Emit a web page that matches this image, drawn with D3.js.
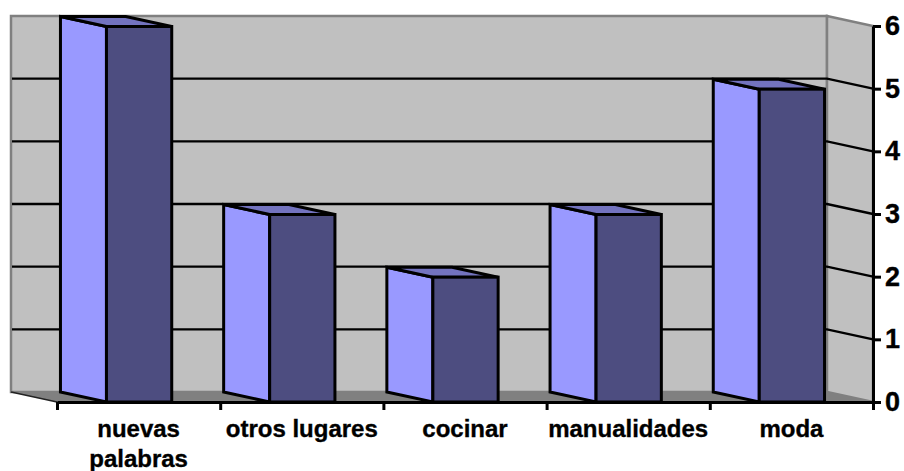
<!DOCTYPE html>
<html><head><meta charset="utf-8">
<script src="https://cdn.jsdelivr.net/npm/d3@7/dist/d3.min.js"></script>
<style>html,body{margin:0;padding:0;background:#fff}svg{display:block}text{font-family:"Liberation Sans",Arial,sans-serif;font-weight:bold;fill:#000;stroke:#000;stroke-width:0.35px}</style>
</head><body><svg id="c" width="904" height="471"></svg>
<script>
const categories = ["nuevas palabras","otros lugares","cocinar","manualidades","moda"];
const values = [6,3,2,3,5];
const yTicks = [0,1,2,3,4,5,6];

const dx = 46, dy = 10;
const plotL = 57, plotR = 873, plotB = 402, plotT = 26;
const svg = d3.select("#c");
const x = d3.scaleBand().domain(categories).range([plotL,plotR]).paddingInner(0.6).paddingOuter(0.3);
const edge = d3.scaleLinear().domain([0,categories.length]).range([plotL,plotR]);
const y = d3.scaleLinear().domain([0,6]).range([plotB,plotT]);
const poly = p => p.map(a=>a.join(",")).join(" ");

// walls and floor
svg.append("polygon").attr("points",poly([[plotL-dx,plotT-dy],[plotR-dx,plotT-dy],[plotR-dx,plotB-dy],[plotL-dx,plotB-dy]]))
  .attr("fill","#c0c0c0").attr("stroke","#808080").attr("stroke-width",2.5);
svg.append("polygon").attr("points",poly([[plotR-dx,plotT-dy],[plotR,plotT],[plotR,plotB],[plotR-dx,plotB-dy]]))
  .attr("fill","#c0c0c0").attr("stroke","#808080").attr("stroke-width",2.5);
svg.append("polygon").attr("points",poly([[plotL-dx,plotB-dy],[plotR-dx,plotB-dy],[plotR,plotB],[plotL,plotB]]))
  .attr("fill","#808080");
svg.append("line").attr("x1",plotL-dx).attr("y1",plotB-dy).attr("x2",plotL).attr("y2",plotB).attr("stroke","#222").attr("stroke-width",1.5);

// gridlines
const gridVals = yTicks.filter(v=>v>0&&v<6);
svg.append("g").selectAll("polyline").data(gridVals).join("polyline")
  .attr("fill","none").attr("stroke","#000").attr("stroke-width",2.4)
  .attr("points",v=>poly([[plotL-dx+1,y(v)-dy],[plotR-dx,y(v)-dy],[plotR,y(v)]]));

// axes
const gx = svg.append("g").attr("transform",`translate(0,${plotB})`)
  .call(d3.axisBottom(edge).tickValues(d3.range(categories.length+1)).tickFormat("").tickSize(8).tickSizeOuter(0));
gx.selectAll("path,line").attr("stroke","#000").attr("stroke-width",3);
const gy = svg.append("g").attr("transform",`translate(${plotR},0)`)
  .call(d3.axisRight(y).tickValues(yTicks).tickFormat(d3.format("d")).tickSize(8).tickSizeOuter(0).tickPadding(4));
gy.selectAll("path,line").attr("stroke","#000").attr("stroke-width",3);
gy.selectAll("text").style("font-size","27px").style("font-family",'"Liberation Sans",Arial,sans-serif').style("font-weight","bold").attr("fill","#000");

// bars
const bars = svg.append("g").selectAll("g").data(categories).join("g").attr("stroke","#000").attr("stroke-width",3).attr("stroke-linejoin","miter");
bars.append("polygon").attr("fill","#9999ff").attr("points",(c,i)=>{
  const a=x(c)+0.5,t=y(values[i])+0.5;
  return poly([[a-dx,t-dy],[a,t],[a,plotB],[a-dx,plotB-dy]]);});
bars.append("polygon").attr("fill","#7373bf").attr("points",(c,i)=>{
  const a=x(c)+0.5,b=a+x.bandwidth(),t=y(values[i])+0.5;
  return poly([[a-dx,t-dy],[b-dx,t-dy],[b,t],[a,t]]);});
bars.append("rect").attr("fill","#4d4d80")
  .attr("x",c=>x(c)+0.5).attr("width",x.bandwidth())
  .attr("y",(c,i)=>y(values[i])+0.5).attr("height",(c,i)=>plotB-y(values[i])-0.5);

// category labels
const labels = svg.append("g").selectAll("text").data(categories).join("text")
  .attr("text-anchor","middle").style("font-size","24px");
labels.each(function(c){
  const cx = x(c)+x.bandwidth()/2;
  const words = c==="nuevas palabras"?c.split(" "):[c];
  d3.select(this).selectAll("tspan").data(words).join("tspan")
    .attr("x",cx).attr("y",(w,j)=>437+j*30).text(w=>w);
});
</script></body></html>
